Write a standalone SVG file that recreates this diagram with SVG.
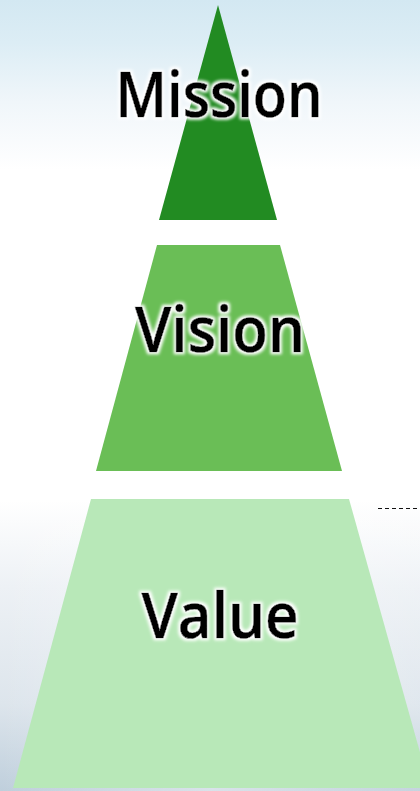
<svg xmlns="http://www.w3.org/2000/svg" width="420" height="791" viewBox="0 0 420 791">
<defs>
<linearGradient id="topBg" x1="0" y1="0" x2="0" y2="1">
<stop offset="0" stop-color="#d3e8f2"/>
<stop offset="0.25" stop-color="#dcedf5"/>
<stop offset="0.6" stop-color="#f0f6fa"/>
<stop offset="1" stop-color="#ffffff"/>
</linearGradient>
<linearGradient id="botBg" x1="0" y1="0" x2="0" y2="1">
<stop offset="0" stop-color="#ffffff"/>
<stop offset="0.3" stop-color="#edf1f5"/>
<stop offset="0.7" stop-color="#dde5ec"/>
<stop offset="1" stop-color="#bfcfdc"/>
</linearGradient>
<linearGradient id="botFade" x1="0" y1="0" x2="1" y2="0">
<stop offset="0" stop-color="#ffffff" stop-opacity="0"/>
<stop offset="0.5" stop-color="#ffffff" stop-opacity="0.4"/>
<stop offset="1" stop-color="#ffffff" stop-opacity="0.1"/>
</linearGradient>
<filter id="glow" x="-10%" y="-20%" width="120%" height="140%">
<feMorphology in="SourceAlpha" operator="dilate" radius="2" result="d"/>
<feGaussianBlur in="d" stdDeviation="1.6" result="b"/>
<feFlood flood-color="#ffffff"/>
<feComposite in2="b" operator="in" result="g"/>
<feMerge><feMergeNode in="g"/><feMergeNode in="SourceGraphic"/></feMerge>
</filter>
</defs>
<style>
.lbl{font-family:"Open Sans","Noto Sans","Liberation Sans",sans-serif;font-weight:600;font-size:64px;fill:#000;stroke:#000;stroke-width:0.6;text-anchor:middle;filter:url(#glow)}
.dash{stroke:#111;stroke-width:1.2;stroke-dasharray:4 3;fill:none}
</style>
<rect width="420" height="791" fill="#ffffff"/>
<rect width="420" height="170" fill="url(#topBg)"/>
<rect y="500" width="420" height="291" fill="url(#botBg)"/>
<rect y="500" width="420" height="291" fill="url(#botFade)"/>
<g id="mission">
<polygon points="218,5 277,220 159,220" fill="#228b22"/>
<text class="lbl" x="219" y="117" textLength="207" lengthAdjust="spacingAndGlyphs">Mission</text>
</g>
<g id="vision">
<polygon points="157,245 280,245 342,471 96,471" fill="#6abe56"/>
<text class="lbl" x="220" y="352" textLength="170" lengthAdjust="spacingAndGlyphs">Vision</text>
</g>
<g id="value">
<polygon points="91,499 349,499 430,788 13,788" fill="#b8e8b8"/>
<text class="lbl" x="220" y="638" textLength="157" lengthAdjust="spacingAndGlyphs">Value</text>
</g>
<g id="connectors">
<line class="dash" x1="378" y1="508.5" x2="420" y2="508.5"/>
</g>
</svg>
